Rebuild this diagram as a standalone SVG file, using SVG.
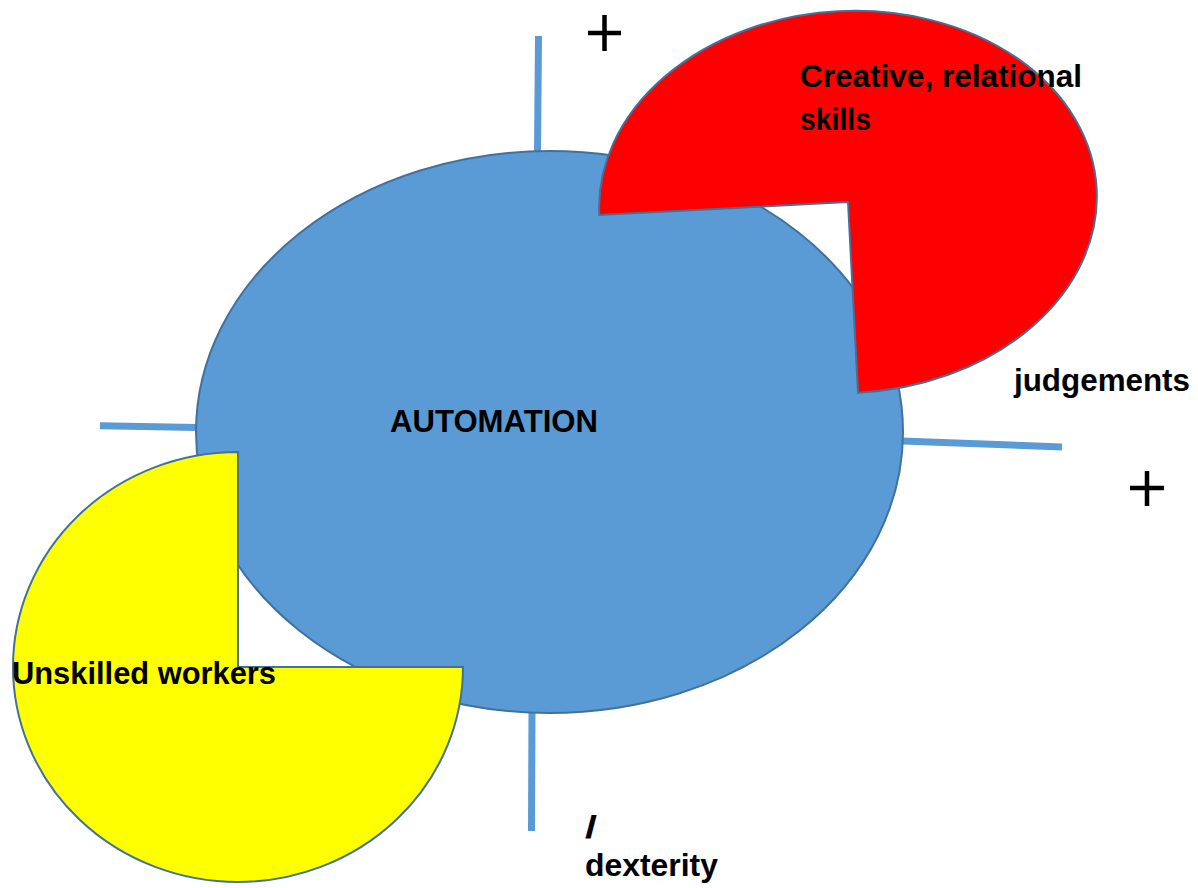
<svg xmlns="http://www.w3.org/2000/svg" width="1198" height="888" viewBox="0 0 1198 888">
<style>
.axis{stroke:#5b9bd5;stroke-width:7;fill:none}
.shape{stroke:#41719c;stroke-width:2}
.lbl{font-family:"Liberation Sans",Arial,sans-serif;font-weight:bold;font-size:31px;fill:#000}
.plus{stroke:#000;stroke-width:4.5;fill:none}
</style>
<rect width="1198" height="888" fill="#fff"/>
<g id="connectors">
<line class="axis" x1="538.5" y1="36" x2="537.5" y2="152"/>
<line class="axis" x1="532" y1="712" x2="531.5" y2="831"/>
<line class="axis" x1="100" y1="425.7" x2="197" y2="427.5"/>
<line class="axis" x1="902" y1="441" x2="1062" y2="447"/>
</g>
<g id="automation">
<ellipse class="shape" cx="549.5" cy="432" rx="353.5" ry="281" fill="#5b9bd5"/>
<text class="lbl" x="390" y="432" textLength="208" lengthAdjust="spacingAndGlyphs">AUTOMATION</text>
</g>
<g id="unskilled">
<path class="shape" fill="#ffff00" d="M238 667 L238 452 A225 215 0 1 0 463 667 Z"/>
<text class="lbl" x="12" y="684" textLength="264" lengthAdjust="spacingAndGlyphs">Unskilled workers</text>
</g>
<g id="creative">
<path class="shape" fill="#ff0000" transform="translate(848 202) rotate(-3)" d="M0 0 L-249 0 A249 191 0 1 1 0 191 Z"/>
<text class="lbl" x="800" y="87" textLength="282" lengthAdjust="spacingAndGlyphs">Creative, relational</text>
<text class="lbl" x="800" y="130" textLength="71" lengthAdjust="spacingAndGlyphs">skills</text>
</g>
<g id="labels">
<text class="lbl" x="1014" y="391" textLength="176" lengthAdjust="spacingAndGlyphs">judgements</text>
<text class="lbl" x="585" y="838" textLength="12" lengthAdjust="spacingAndGlyphs">/</text>
<text class="lbl" x="585" y="876" textLength="133" lengthAdjust="spacingAndGlyphs">dexterity</text>
<path class="plus" d="M588 33 H621 M604.5 15 V51"/>
<path class="plus" d="M1130 488 H1164 M1147 471 V506"/>
</g>
</svg>
